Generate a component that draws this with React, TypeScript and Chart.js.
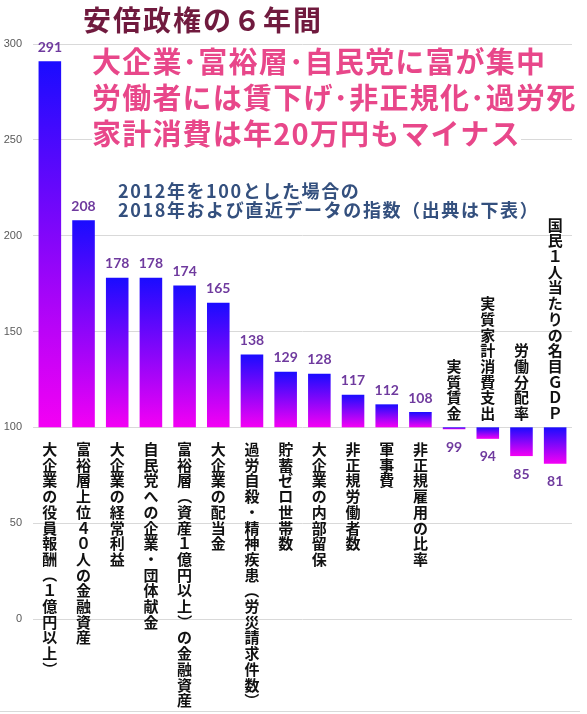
import React, { useEffect, useRef } from "react";
import { Chart, registerables } from "chart.js";

Chart.register(...registerables);

// ---------- data ----------
const categories: string[] = [
  "大企業の役員報酬（１億円以上）",
  "富裕層上位４０人の金融資産",
  "大企業の経常利益",
  "自民党への企業・団体献金",
  "富裕層（資産１億円以上）の金融資産",
  "大企業の配当金",
  "過労自殺・精神疾患（労災請求件数）",
  "貯蓄ゼロ世帯数",
  "大企業の内部留保",
  "非正規労働者数",
  "軍事費",
  "非正規雇用の比率",
  "実質賃金",
  "実質家計消費支出",
  "労働分配率",
  "国民１人当たりの名目ＧＤＰ",
];
const values: number[] = [291, 208, 178, 178, 174, 165, 138, 129, 128, 117, 112, 108, 99, 94, 85, 81];
const baseValue = 100;
const yTicks: number[] = [0, 50, 100, 150, 200, 250, 300];
const yMin = -48;
const yMax = 300;

const titleText = "安倍政権の６年間";
const headlineLines: string[] = [
  "大企業･富裕層･自民党に富が集中",
  "労働者には賃下げ･非正規化･過労死",
  "家計消費は年20万円もマイナス",
];
const subtitleLines: string[] = [
  "2012年を100とした場合の",
  "2018年および直近データの指数（出典は下表）",
];

// ---------- styles ----------
const JP = '"Noto Sans CJK JP", "Noto Sans", sans-serif';
const GRID = "#d9d9d9";
const VALUE_COLOR = "#6f3a9e";

const labelPlugin = {
  id: "barLabels",
  afterDatasetsDraw(chart: any) {
    const { ctx, chartArea } = chart;
    const ys = chart.scales.y;
    const meta = chart.getDatasetMeta(0);
    const y100 = ys.getPixelForValue(baseValue);
    ctx.save();
    // bottom axis line
    ctx.strokeStyle = GRID;
    ctx.lineWidth = 1;
    ctx.beginPath();
    ctx.moveTo(0, Math.round(chartArea.bottom) + 0.5);
    ctx.lineTo(chartArea.right + 8, Math.round(chartArea.bottom) + 0.5);
    ctx.stroke();

    ctx.textAlign = "center";
    ctx.textBaseline = "middle";
    meta.data.forEach((bar: any, i: number) => {
      const v = values[i];
      const x = bar.x;
      const up = v >= baseValue;
      const yv = ys.getPixelForValue(v);
      // value label
      ctx.font = "bold 14px Lato, " + JP;
      ctx.fillStyle = VALUE_COLOR;
      ctx.fillText(String(v), x, up ? yv - 14 : yv + 18);
      // vertical category label
      const chars = Array.from(categories[i]);
      ctx.font = "bold 15px " + JP;
      ctx.fillStyle = "#111111";
      const step = 15.7;
      chars.forEach((c, k) => {
        const cy = up ? y100 + 22 + k * step : y100 - 14 - (chars.length - 1 - k) * step;
        if (c === "（" || c === "）") {
          ctx.save();
          ctx.translate(x, cy);
          ctx.rotate(Math.PI / 2);
          ctx.fillText(c, 0, 0);
          ctx.restore();
        } else {
          ctx.fillText(c, x, cy);
        }
      });
    });
    ctx.restore();
  },
};

export default function App() {
  const canvasRef = useRef<HTMLCanvasElement | null>(null);

  useEffect(() => {
    if (!canvasRef.current) return;
    const chart = new Chart(canvasRef.current, {
      type: "bar",
      data: {
        labels: categories,
        datasets: [
          {
            data: values.map((v) => [baseValue, v]) as any,
            backgroundColor: (c: any) => {
              const ch = c.chart;
              if (!ch.chartArea || c.dataIndex === undefined) return "#8000ff";
              const ys = ch.scales.y;
              const v = values[c.dataIndex];
              const top = ys.getPixelForValue(Math.max(v, baseValue));
              const bot = ys.getPixelForValue(Math.min(v, baseValue));
              const g = ch.ctx.createLinearGradient(0, top, 0, Math.max(bot, top + 1));
              g.addColorStop(0, "#1a0cff");
              g.addColorStop(1, "#f400f4");
              return g;
            },
            borderWidth: 0,
            barPercentage: 0.67,
            categoryPercentage: 1,
          },
        ],
      },
      options: {
        animation: false,
        responsive: false,
        maintainAspectRatio: false,
        layout: { padding: { top: 44, bottom: 3, right: 15, left: 0 } },
        plugins: {
          legend: { display: false },
          tooltip: { enabled: false },
          title: { display: false },
        },
        scales: {
          x: {
            display: false,
            offset: true,
          },
          y: {
            min: yMin,
            max: yMax,
            afterBuildTicks: (scale: any) => {
              scale.ticks = yTicks.map((v) => ({ value: v }));
            },
            afterFit: (scale: any) => {
              scale.width = 33;
              scale.paddingTop = 0;
              scale.paddingBottom = 0;
            },
            grid: { color: GRID, drawTicks: false, lineWidth: 1 },
            border: { display: false },
            ticks: {
              padding: 11,
              color: "#595959",
              font: { family: "Liberation Sans", size: 11 },
            },
          },
        },
      },
      plugins: [labelPlugin],
    });
    chart.update();
    return () => chart.destroy();
  }, []);

  const lineBox = (top: number, left: number): React.CSSProperties => ({
    position: "absolute",
    top,
    left,
    whiteSpace: "nowrap",
  });

  return (
    <div
      style={{
        position: "fixed",
        left: 0,
        top: 0,
        width: 587,
        height: 714,
        background: "#ffffff",
        overflow: "hidden",
      }}
    >
      <canvas
        ref={canvasRef}
        width={587}
        height={714}
        style={{ position: "absolute", left: 0, top: 0, width: 587, height: 714 }}
      />
      <div
        style={{
          ...lineBox(4, 83),
          fontFamily: JP,
          fontWeight: 700,
          fontSize: 28,
          lineHeight: "30px",
          letterSpacing: "2px",
          color: "#701a3e",
        }}
      >
        {titleText}
      </div>
      {headlineLines.map((t, i) => (
        <div
          key={i}
          style={{
            ...lineBox(45 + i * 36, 92),
            fontFamily: JP,
            fontWeight: 700,
            fontSize: 29,
            lineHeight: "30px",
            height: 30,
            letterSpacing: "1.2px",
            color: "#e8478a",
            background: "#ffffff",
          }}
        >
          {t}
        </div>
      ))}
      {subtitleLines.map((t, i) => (
        <div
          key={"s" + i}
          style={{
            ...lineBox(181 + i * 19, 118),
            fontFamily: '"Liberation Sans Narrow", ' + JP,
            fontWeight: 700,
            fontSize: 18,
            lineHeight: "19px",
            letterSpacing: "1.6px",
            color: "#34507e",
          }}
        >
          {t}
        </div>
      ))}
    </div>
  );
}
